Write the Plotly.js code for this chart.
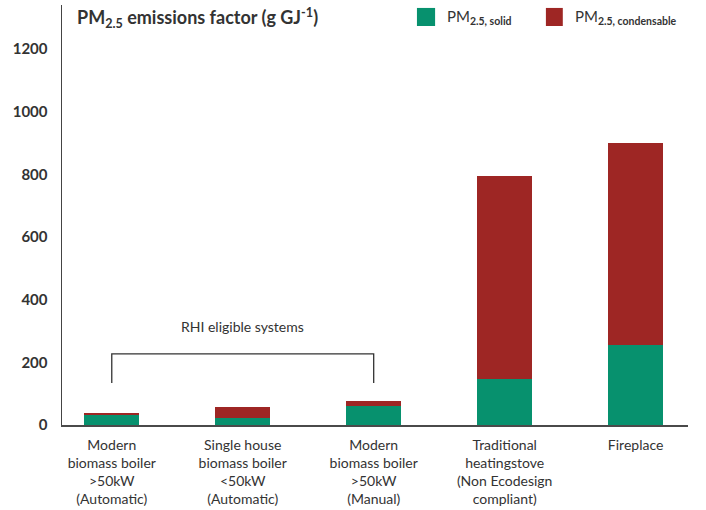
<!DOCTYPE html>
<html>
<head>
<meta charset="utf-8">
<script src="https://cdn.plot.ly/plotly-3.0.1.min.js"></script>
<style>html,body{margin:0;padding:0;background:#fff;}#chart{width:706px;height:510px;}</style>
</head>
<body>
<div id="chart"></div>
<script>
const categories = [
  "Modern<br>biomass boiler<br>&gt;50kW<br>(Automatic)",
  "Single house<br>biomass boiler<br>&lt;50kW<br>(Automatic)",
  "Modern<br>biomass boiler<br>&gt;50kW<br>(Manual)",
  "Traditional<br>heatingstove<br>(Non Ecodesign<br>compliant)",
  "Fireplace"
];
const solidValues = [32, 21, 62, 146, 256];
const condensableValues = [6, 35, 13, 650, 644];
const yTicks = [0, 200, 400, 600, 800, 1000, 1200];
const seriesNames = ["PM<sub><b>2.5, solid</b></sub>", "PM<sub><b>2.5, condensable</b></sub>"];
const bracketLabel = "RHI eligible systems";

const GREEN = "#07916e";
const RED = "#9e2624";
const TXT = "#333333";

const traces = [
  {type: "bar", name: seriesNames[0], x: categories, y: solidValues,
   marker: {color: GREEN}, width: 0.42, hoverinfo: "skip"},
  {type: "bar", name: seriesNames[1], x: categories, y: condensableValues,
   marker: {color: RED}, width: 0.42, hoverinfo: "skip"}
];

const layout = {
  width: 706, height: 510,
  margin: {l: 62, r: 18, t: 5, b: 85},
  barmode: "stack",
  paper_bgcolor: "#fff", plot_bgcolor: "#fff",
  font: {family: "Lato, 'Open Sans', sans-serif", color: TXT, size: 14},
  title: {text: "<b>PM<sub>2.5</sub> emissions factor (g GJ<sup>-1</sup>)</b>",
          x: 77/706, xanchor: "left", xref: "container", y: 1 - 18/510, yanchor: "middle", yref: "container",
          font: {family: "Lato, sans-serif", size: 18, color: TXT}},
  showlegend: false,
  xaxis: {type: "category", categoryorder: "array", categoryarray: categories,
          range: [-0.38, 4.40], showline: true, linecolor: "#4a4a4a", linewidth: 2,
          ticks: "", showgrid: false, zeroline: false, ticklabelstandoff: 6,
          tickfont: {size: 14, color: TXT}},
  yaxis: {range: [0, 1340], tickvals: yTicks, showline: true, linecolor: "#444", linewidth: 1.5,
          ticks: "", showgrid: false, zeroline: false, ticklabelstandoff: 10,
          tickfont: {size: 15, color: TXT, weight: "bold"}},
  shapes: [
    {type: "path", xref: "x", yref: "y",
     path: "M 0,134 L 0,227 L 2,227 L 2,134",
     line: {color: "#333", width: 1.3}},
    {type: "rect", xref: "paper", yref: "paper", x0: 0.567, x1: 0.596, y0: 0.950, y1: 0.993,
     fillcolor: GREEN, line: {width: 0}},
    {type: "rect", xref: "paper", yref: "paper", x0: 0.773, x1: 0.800, y0: 0.950, y1: 0.993,
     fillcolor: RED, line: {width: 0}}
  ],
  annotations: [
    {text: bracketLabel, xref: "x", yref: "y", x: 1, y: 315, showarrow: false,
     font: {size: 14, color: TXT}},
    {text: seriesNames[0], xref: "paper", yref: "paper", x: 0.612, y: 0.972, xanchor: "left", yanchor: "middle",
     showarrow: false, font: {size: 15, color: TXT}},
    {text: seriesNames[1], xref: "paper", yref: "paper", x: 0.816, y: 0.972, xanchor: "left", yanchor: "middle",
     showarrow: false, font: {size: 15, color: TXT}}
  ]
};

Plotly.newPlot("chart", traces, layout, {staticPlot: true, displayModeBar: false});
</script>
</body>
</html>
